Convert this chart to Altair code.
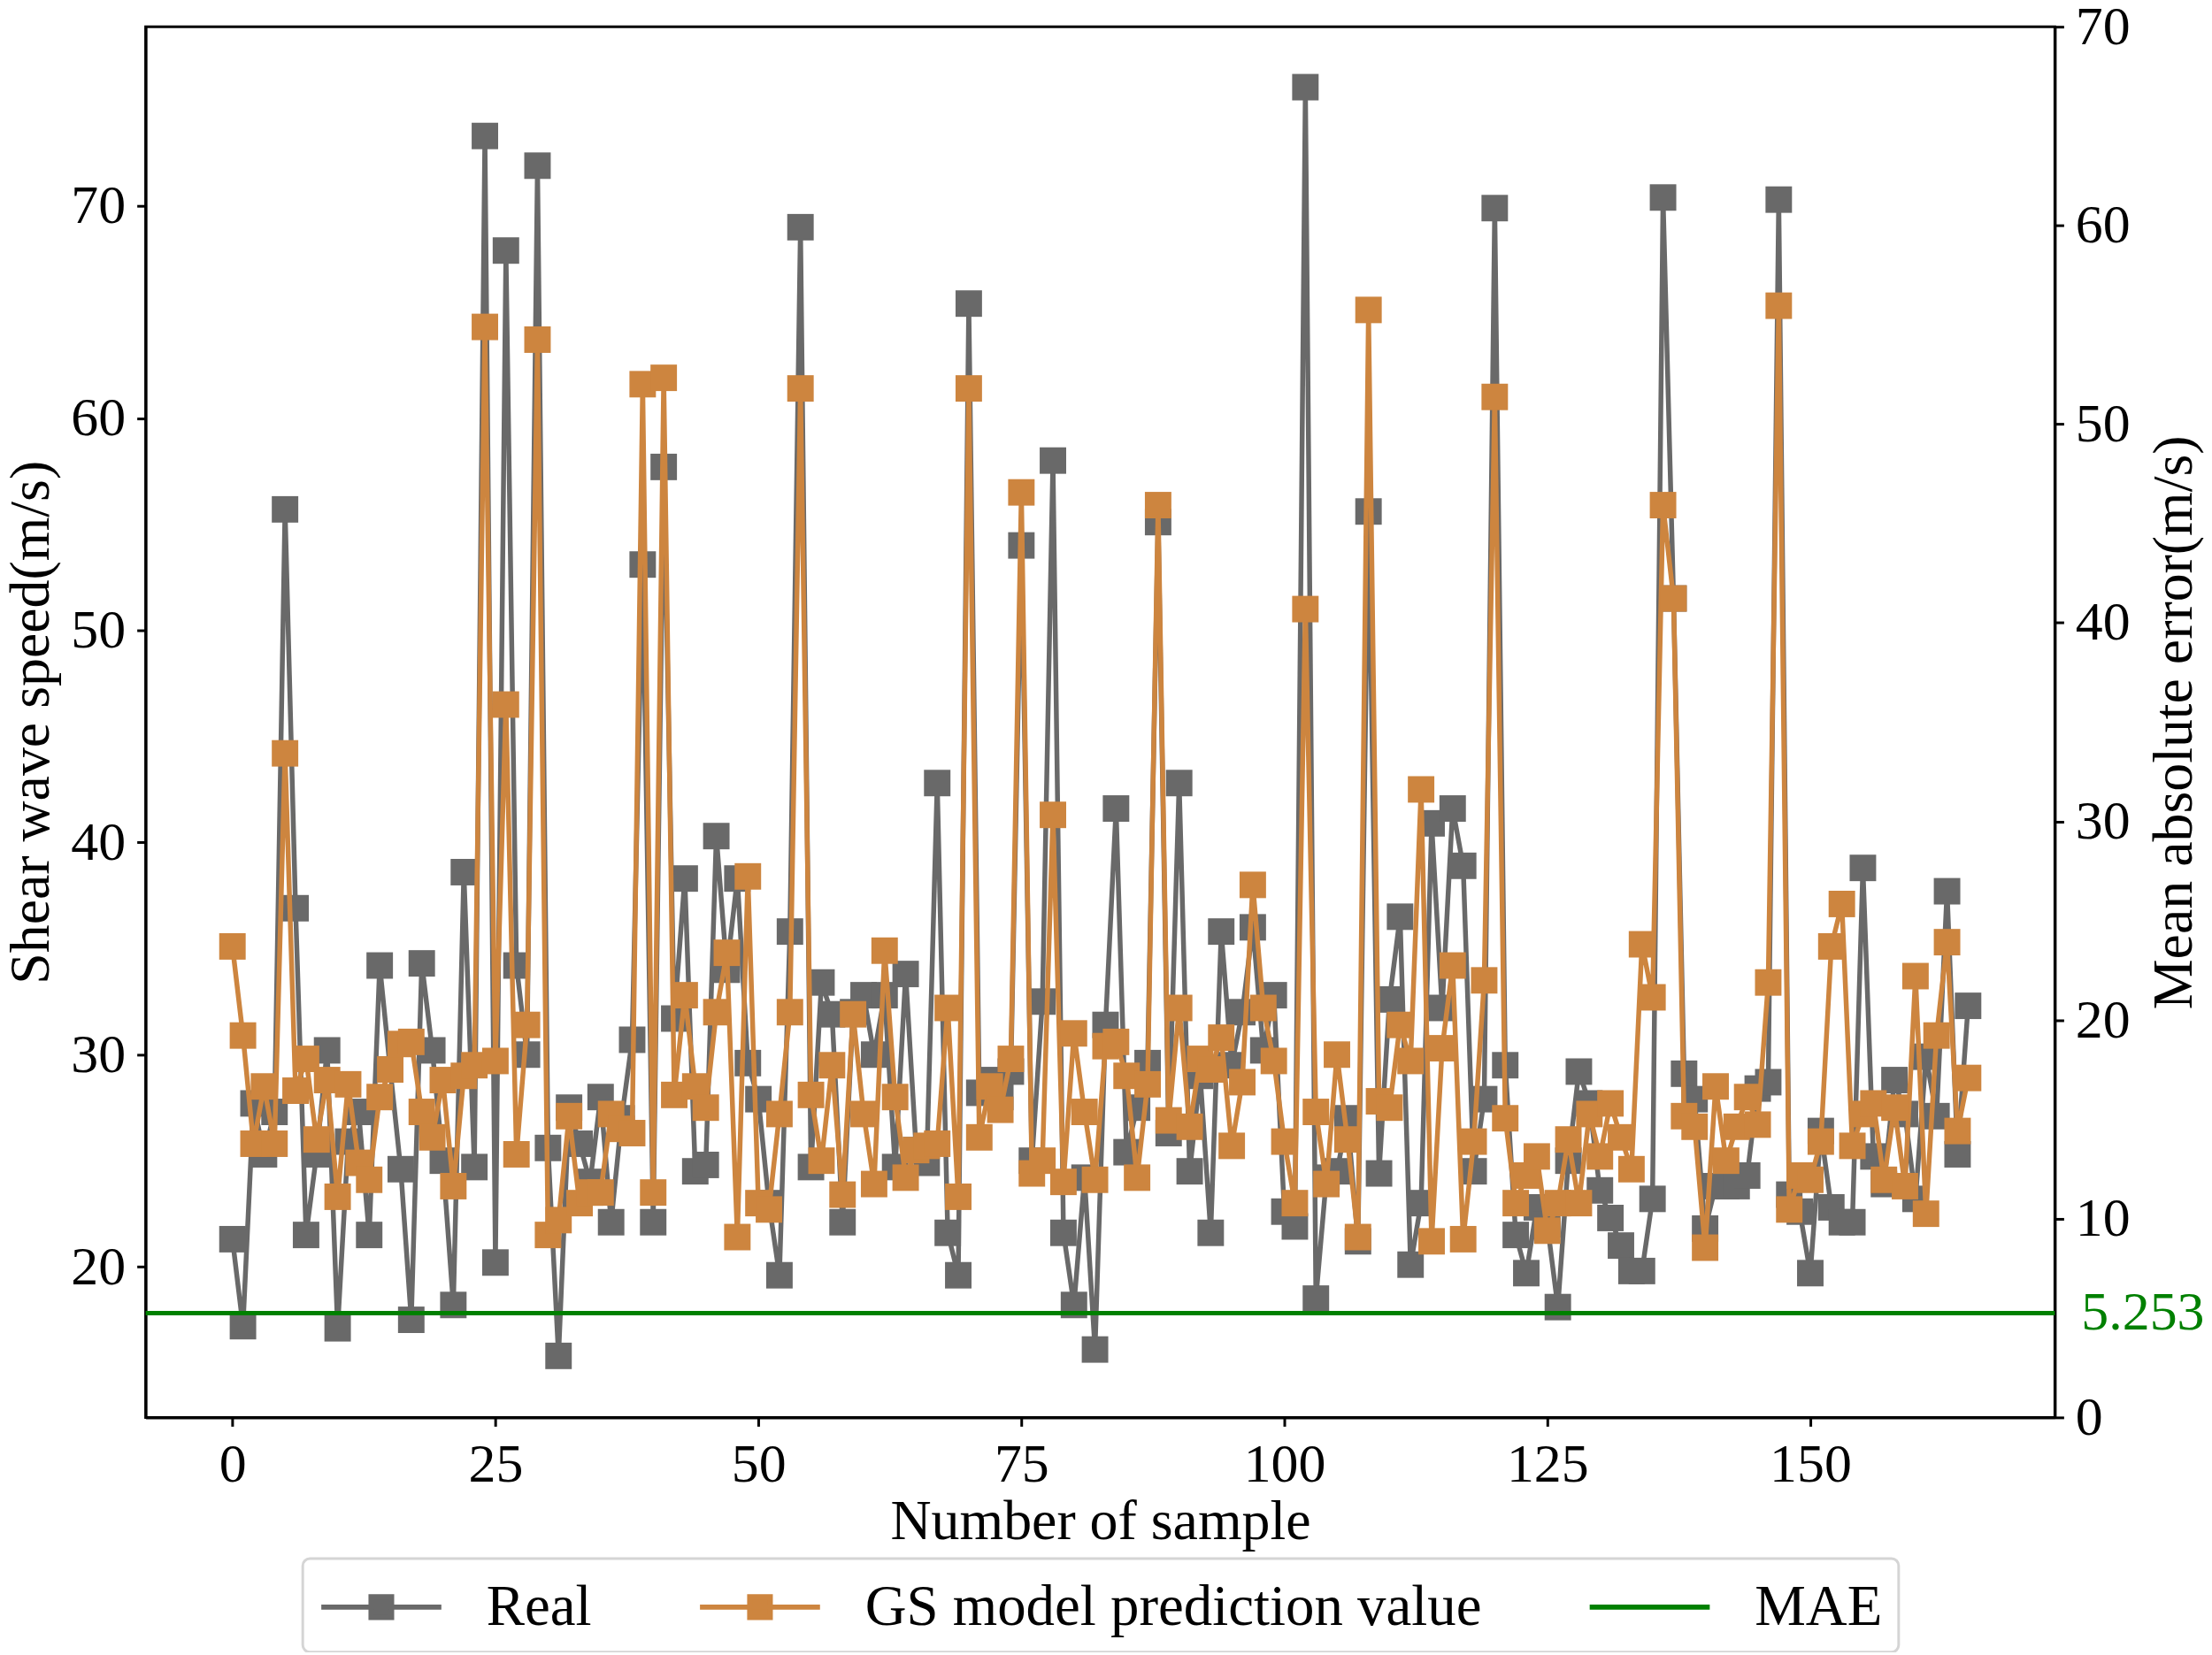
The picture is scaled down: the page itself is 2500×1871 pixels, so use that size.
import altair as alt
import pandas as pd

# values
sample = list(range(166))
real = [
    21.3, 17.2, 27.7, 25.3, 27.3, 55.7, 36.9, 21.5, 25.3, 30.2,
    17.1, 25.9, 27.3, 21.5, 34.2, 29.3, 24.6, 17.5, 34.3, 30.2,
    25.0, 18.2, 38.6, 24.7, 73.3, 20.2, 67.9, 34.2, 30.0, 71.9,
    25.6, 15.8, 27.5, 25.8, 24.0, 28.0, 22.1, 27.0, 30.7, 53.1,
    22.1, 57.7, 31.7, 38.3, 24.5, 24.8, 40.3, 34.0, 38.3, 29.6,
    27.9, 23.0, 19.6, 35.8, 69.0, 24.7, 33.4, 31.9, 22.1, 32.0,
    32.8, 30.0, 32.8, 24.7, 33.8, 25.5, 24.9, 42.8, 21.6, 19.6,
    65.4, 28.2, 28.8, 28.0, 29.2, 54.0, 25.0, 32.5, 58.0, 21.6,
    18.2, 24.2, 16.1, 31.4, 41.6, 25.4, 27.5, 29.6, 55.1, 26.3,
    42.8, 24.5, 29.0, 21.6, 35.8, 29.5, 32.0, 36.0, 30.2, 32.8,
    22.6, 21.9, 75.6, 18.5, 24.2, 24.5, 27.0, 21.2, 55.6, 24.4,
    32.6, 36.5, 20.1, 23.0, 40.9, 32.2, 41.6, 38.9, 24.5, 27.9,
    69.9, 29.5, 21.5, 19.7, 22.8, 22.0, 18.1, 25.0, 29.2, 27.7,
    23.6, 22.3, 21.0, 19.8, 19.8, 23.2, 70.4, 51.5, 29.1, 27.9,
    21.8, 23.8, 23.8, 23.8, 24.3, 28.4, 28.7, 70.3, 23.4, 22.6,
    19.7, 26.4, 22.8, 22.1, 22.1, 38.8, 25.2, 23.9, 28.8, 27.2,
    23.2, 29.9, 27.1, 37.7, 25.3, 32.3,
]
pred = [
    35.1, 30.9, 25.8, 28.5, 25.8, 44.2, 28.3, 29.8, 26.0, 28.8,
    23.3, 28.6, 24.9, 24.1, 28.0, 29.3, 30.5, 30.6, 27.3, 26.1,
    28.8, 23.8, 29.0, 29.5, 64.3, 29.7, 46.5, 25.3, 31.4, 63.7,
    21.5, 22.2, 27.1, 23.0, 23.5, 23.5, 27.2, 26.5, 26.3, 61.6,
    23.5, 61.9, 28.1, 32.8, 28.5, 27.5, 32.0, 34.8, 21.4, 38.4,
    23.0, 22.7, 27.2, 32.0, 61.4, 28.1, 25.0, 29.5, 23.4, 31.9,
    27.2, 23.9, 34.9, 28.0, 24.2, 25.5, 25.7, 25.8, 32.2, 23.3,
    61.4, 26.1, 28.5, 27.4, 29.8, 56.5, 24.4, 25.0, 41.3, 24.0,
    31.0, 27.3, 24.1, 30.4, 30.6, 29.0, 24.2, 28.6, 55.9, 26.9,
    32.2, 26.6, 29.8, 29.3, 30.8, 25.7, 28.7, 38.0, 32.2, 29.7,
    25.9, 23.0, 51.0, 27.3, 23.9, 30.0, 26.0, 21.4, 65.1, 27.8,
    27.5, 31.4, 29.7, 42.5, 21.2, 30.3, 34.2, 21.3, 25.9, 33.5,
    61.0, 27.0, 23.0, 24.3, 25.2, 21.7, 23.0, 26.0, 23.0, 27.2,
    25.2, 27.7, 26.1, 24.6, 35.2, 32.7, 55.9, 51.5, 27.1, 26.6,
    20.9, 28.5, 25.0, 26.6, 28.0, 26.7, 33.4, 65.3, 22.7, 24.3,
    24.1, 25.9, 35.1, 37.1, 25.7, 27.2, 27.7, 24.1, 27.5, 23.8,
    33.7, 22.5, 30.9, 35.3, 26.4, 28.9,
]
mae = 5.253

series_names = ["Real", "GS model prediction value", "MAE"]
series_colors = ["#696969", "#CD853F", "#008000"]
x_ticks = [0, 25, 50, 75, 100, 125, 150]
left_ticks = [20, 30, 40, 50, 60, 70]
right_ticks = [0, 10, 20, 30, 40, 50, 60, 70]

df = pd.DataFrame({"sample": sample, "real": real, "pred": pred})
legend_df = pd.DataFrame({"series": series_names})
mae_df = pd.DataFrame({"mae": [mae], "label": [f"{mae:.3f}"]})

W, H = 2163, 1576
FONT = "Liberation Serif"

x_enc = alt.X(
    "sample:Q",
    scale=alt.Scale(domain=[-8.25, 173.25], nice=False, zero=False),
    axis=alt.Axis(values=x_ticks, title="Number of sample", format="d",
                  labelFlush=False, titleX=W / 2, titleY=118,
                  titleBaseline="middle", titleAlign="center"),
)
left_axis = alt.Axis(values=left_ticks, title="Shear wave speed(m/s)",
                     titleX=-129, titleY=H / 2, titleAngle=270,
                     titleBaseline="middle", titleAlign="center")
left_scale = alt.Scale(domain=[12.9, 78.45], nice=False, zero=False)

real_line = alt.Chart(df).mark_line(color=series_colors[0], strokeWidth=5.5).encode(
    x=x_enc, y=alt.Y("real:Q", scale=left_scale, axis=left_axis))
real_pts = alt.Chart(df).mark_square(color=series_colors[0], size=900, opacity=1).encode(
    x=x_enc, y=alt.Y("real:Q", scale=left_scale, axis=left_axis))
pred_line = alt.Chart(df).mark_line(color=series_colors[1], strokeWidth=5.5).encode(
    x=x_enc, y=alt.Y("pred:Q", scale=left_scale, axis=left_axis))
pred_pts = alt.Chart(df).mark_square(color=series_colors[1], size=900, opacity=1).encode(
    x=x_enc, y=alt.Y("pred:Q", scale=left_scale, axis=left_axis))

# legend only: a line with a square, or a plain line for MAE
# (unit = symbol radius; the line runs from -1 to 3 so it sits before the label)
marker_path = "M-1,0H3M0.66,-0.34H1.34V0.34H0.66Z"
line_path = "M-1,0H3"
leg = alt.Legend(title=None, orient="none", legendX=178, legendY=1736,
                 direction="horizontal", labelFont=FONT, labelFontSize=65,
                 labelOffset=116, columnPadding=110, symbolSize=4624,
                 symbolStrokeWidth=6, padding=18, strokeColor="#d5d5d5",
                 fillColor="white", cornerRadius=8, labelLimit=1000,
                 labelColor="black", symbolOpacity=1)
legend_layer = alt.Chart(legend_df).mark_point(filled=True, clip=True, strokeWidth=6, opacity=1).encode(
    x=alt.value(0),
    y=alt.value(-400),
    fill=alt.Fill("series:N", scale=alt.Scale(domain=series_names, range=series_colors), legend=leg),
    stroke=alt.Stroke("series:N", scale=alt.Scale(domain=series_names, range=series_colors), legend=leg),
    shape=alt.Shape("series:N", scale=alt.Scale(domain=series_names,
                                                range=[marker_path, marker_path, line_path]), legend=leg),
)

left = alt.layer(legend_layer, real_line, real_pts, pred_line, pred_pts)

right_axis = alt.Axis(orient="right", values=right_ticks, title="Mean absolute error(m/s)",
                      titleX=135, titleY=H / 2, titleAngle=270,
                      titleBaseline="middle", titleAlign="center")
right_scale = alt.Scale(domain=[0, 70], nice=False, zero=True)
mae_rule = alt.Chart(mae_df).mark_rule(color=series_colors[2], strokeWidth=5).encode(
    y=alt.Y("mae:Q", scale=right_scale, axis=right_axis))
mae_text = alt.Chart(mae_df).mark_text(
    align="left", baseline="middle", color=series_colors[2], font=FONT, fontSize=62
).encode(
    x=alt.value(W + 30),
    y=alt.Y("mae:Q", scale=right_scale, axis=right_axis),
    text="label:N",
)
right = alt.layer(mae_rule, mae_text)

chart = (
    alt.layer(left, right)
    .resolve_scale(y="independent")
    .properties(
        width=W,
        height=H,
        autosize=alt.AutoSizeParams(type="none"),
        padding={"left": 157, "top": 20, "right": 170, "bottom": 264},
    )
    .configure_view(stroke="black", strokeWidth=3)
    .configure_axis(
        grid=False,
        labelFont=FONT, labelFontSize=62, labelColor="black", labelPadding=13,
        titleFont=FONT, titleFontSize=64, titleFontWeight="normal", titleColor="black",
        domainColor="black", domainWidth=3, tickColor="black", tickWidth=3, tickSize=10,
    )
    .configure_legend(strokeWidth=3)
)

chart.save("out.html", embed_options={"renderer": "svg", "actions": False})
